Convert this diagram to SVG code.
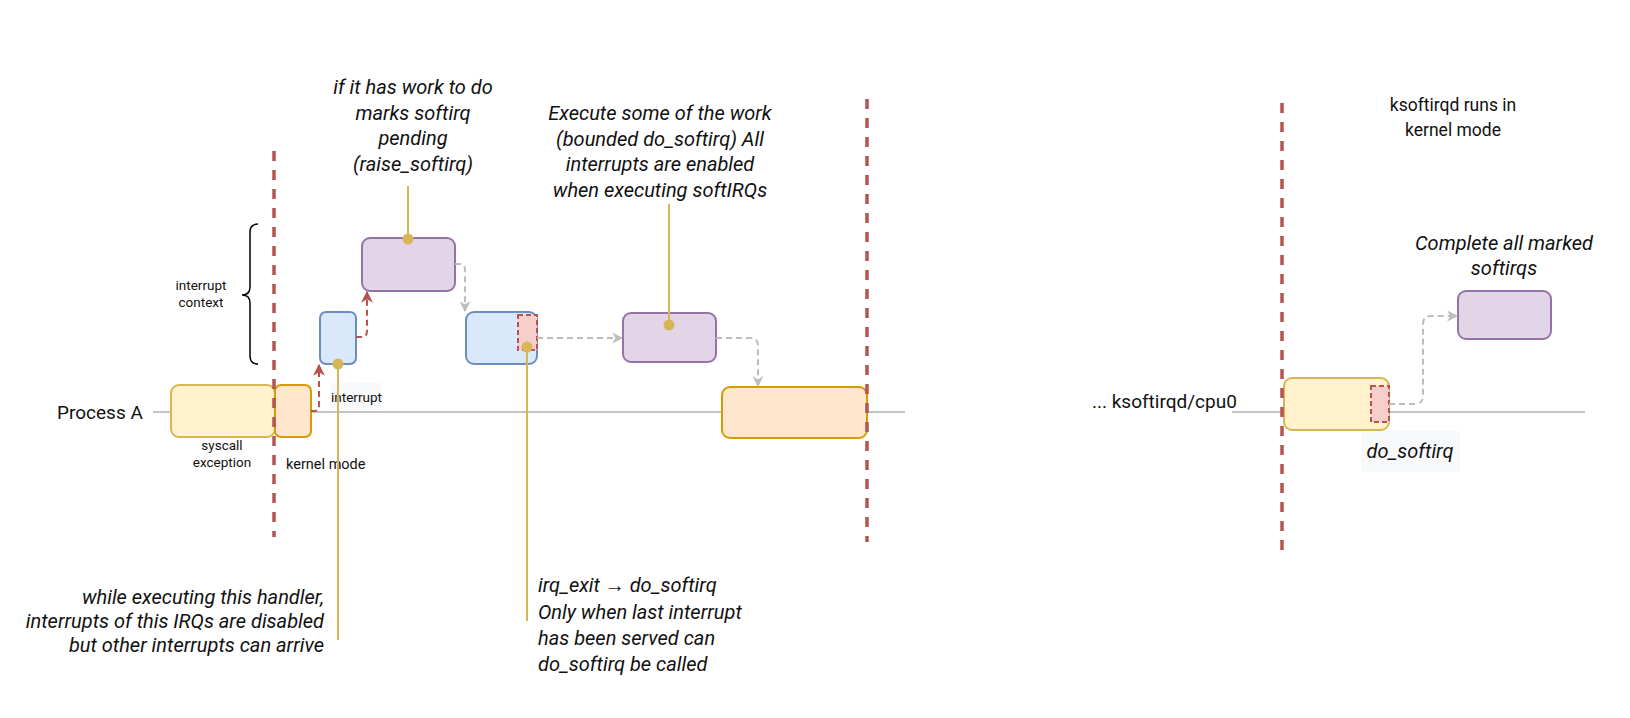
<svg xmlns="http://www.w3.org/2000/svg" width="1630" height="718" viewBox="0 0 1630 718">
<defs>
<style>
text{font-family:Roboto,"Noto Sans","Liberation Sans",sans-serif;fill:#111}
.it{font-style:italic;font-size:20px}
.sm{font-size:13.5px}
.tl{stroke:#c4c4c4;stroke-width:2;fill:none}
.sep{stroke:#b85450;stroke-width:3.5;stroke-dasharray:10 9;fill:none}
.y{fill:#fff2cc;stroke:#d6b656;stroke-width:2}
.o{fill:#ffe6cc;stroke:#d79b00;stroke-width:2}
.b{fill:#dae8fc;stroke:#6c8ebf;stroke-width:2}
.p{fill:#e1d5e7;stroke:#9673a6;stroke-width:2}
.r{fill:#f8cecc;stroke:#b85450;stroke-width:2;stroke-dasharray:5 3}
.ga{stroke:#bdbdbd;stroke-width:2;stroke-dasharray:6 4;fill:none;marker-end:url(#ag)}
.ra{stroke:#b85450;stroke-width:2;stroke-dasharray:6 4;fill:none;marker-end:url(#ar)}
.cl{stroke:#d6b656;stroke-width:2;fill:none}
.dot{fill:#d6b656}
.lbg{fill:#f8f9fa}
</style>
<marker id="ag" viewBox="0 0 10 10" refX="9" refY="5" markerWidth="11" markerHeight="11" markerUnits="userSpaceOnUse" orient="auto"><path d="M0,0 L10,5 L0,10 L3,5 z" fill="#bdbdbd"/></marker>
<marker id="ar" viewBox="0 0 10 10" refX="9" refY="5" markerWidth="12" markerHeight="12" markerUnits="userSpaceOnUse" orient="auto"><path d="M0,0 L10,5 L0,10 L3,5 z" fill="#b85450"/></marker>
</defs>
<rect width="1630" height="718" fill="#ffffff"/>

<g id="timelines">
<line class="tl" x1="153" y1="412" x2="905" y2="412"/>
<line class="tl" x1="1232" y1="412" x2="1585" y2="412"/>
</g>

<g id="process-a"><text x="57" y="419" style="font-size:19px">Process A</text></g>
<g id="ksoftirqd-label"><text x="1092" y="408" style="font-size:19px">... ksoftirqd/cpu0</text></g>

<g id="brace">
<path d="M258,224 Q250,224 250,232 L250,287 Q250,295 242,295 Q250,295 250,303 L250,356 Q250,364 258,364" stroke="#000" stroke-width="1.5" fill="none"/>
<text class="sm" x="201" y="290" text-anchor="middle">interrupt</text>
<text class="sm" x="201" y="307" text-anchor="middle">context</text>
</g>

<g id="syscall"><rect class="y" x="171" y="385" width="104" height="52" rx="8"/>
<text class="sm" x="222" y="450" text-anchor="middle">syscall</text>
<text class="sm" x="222" y="467" text-anchor="middle">exception</text></g>
<g id="kernel"><rect class="o" x="275" y="385" width="36" height="52" rx="6"/>
<text x="286" y="469" style="font-size:14.5px">kernel mode</text></g>
<g id="handler"><rect class="b" x="320" y="312" width="36" height="52" rx="6"/></g>
<g id="raise"><rect class="p" x="362" y="238" width="93" height="53" rx="8"/></g>
<g id="irq-exit"><rect class="b" x="466" y="312" width="71" height="52" rx="8"/>
<rect class="r" x="518" y="315" width="19" height="35"/></g>
<g id="softirq"><rect class="p" x="623" y="313" width="93" height="49" rx="8"/></g>
<g id="return"><rect class="o" x="722" y="387" width="145" height="51" rx="8"/></g>
<g id="ksoftirqd"><rect class="y" x="1284" y="378" width="105" height="52" rx="8"/>
<rect class="r" x="1371" y="386" width="18" height="36"/></g>
<g id="complete"><rect class="p" x="1458" y="291" width="93" height="48" rx="8"/></g>

<g id="interrupt-label"><rect class="lbg" x="330" y="383" width="52" height="27"/>
<text class="sm" x="331" y="402">interrupt</text></g>
<g id="do-softirq-label"><rect class="lbg" x="1361" y="431" width="99" height="41"/>
<text class="it" x="1410" y="458" text-anchor="middle">do_softirq</text></g>

<g id="connectors">
<path class="ra" d="M311,411 L315,411 Q319,411 319,405 L319,365"/>
<path class="ra" d="M356,337 L362,337 Q367,337 367,331 L367,292"/>
<path class="ga" d="M455,264 L460,264 Q465,264 465,270 L465,311"/>
<path class="ga" d="M537,338 L622,338"/>
<path class="ga" d="M716,338 L750,338 Q758,338 758,346 L758,386"/>
<path class="ga" d="M1389,404 L1415,404 Q1423,404 1423,396 L1423,324 Q1423,316 1431,316 L1457,316"/>
<line class="cl" x1="408" y1="186" x2="408" y2="239"/>
<line class="cl" x1="338" y1="364" x2="338" y2="640"/>
<line class="cl" x1="527" y1="347" x2="527" y2="621"/>
<line class="cl" x1="669" y1="204" x2="669" y2="325"/>
<circle class="dot" cx="408" cy="239" r="5.5"/>
<circle class="dot" cx="338" cy="364" r="5.5"/>
<circle class="dot" cx="527" cy="347" r="5.5"/>
<circle class="dot" cx="669" cy="325" r="5.5"/>
</g>

<g id="separators">
<line class="sep" x1="274" y1="151" x2="274" y2="537"/>
<line class="sep" x1="867" y1="99" x2="867" y2="542"/>
<line class="sep" x1="1282" y1="103" x2="1282" y2="553"/>
</g>

<g id="note-raise">
<text class="it" x="413" y="94" text-anchor="middle">if it has work to do</text>
<text class="it" x="413" y="120" text-anchor="middle">marks softirq</text>
<text class="it" x="413" y="145" text-anchor="middle">pending</text>
<text class="it" x="413" y="171" text-anchor="middle">(raise_softirq)</text>
</g>
<g id="note-execute">
<text class="it" x="660" y="120" text-anchor="middle">Execute some of the work</text>
<text class="it" x="660" y="146" text-anchor="middle">(bounded do_softirq) All</text>
<text class="it" x="660" y="171" text-anchor="middle">interrupts are enabled</text>
<text class="it" x="660" y="197" text-anchor="middle">when executing softIRQs</text>
</g>
<g id="note-handler">
<text class="it" x="324" y="604" text-anchor="end">while executing this handler,</text>
<text class="it" x="324" y="628" text-anchor="end">interrupts of this IRQs are disabled</text>
<text class="it" x="324" y="652" text-anchor="end">but other interrupts can arrive</text>
</g>
<g id="note-irq-exit">
<text class="it" x="538" y="592">irq_exit → do_softirq</text>
<text class="it" x="538" y="619">Only when last interrupt</text>
<text class="it" x="538" y="645">has been served can</text>
<text class="it" x="538" y="671">do_softirq be called</text>
</g>
<g id="note-complete">
<text class="it" x="1504" y="250" text-anchor="middle">Complete all marked</text>
<text class="it" x="1504" y="275" text-anchor="middle">softirqs</text>
</g>
<g id="note-ksoftirqd">
<text x="1453" y="111" text-anchor="middle" style="font-size:17.5px">ksoftirqd runs in</text>
<text x="1453" y="136" text-anchor="middle" style="font-size:17.5px">kernel mode</text>
</g>
</svg>
